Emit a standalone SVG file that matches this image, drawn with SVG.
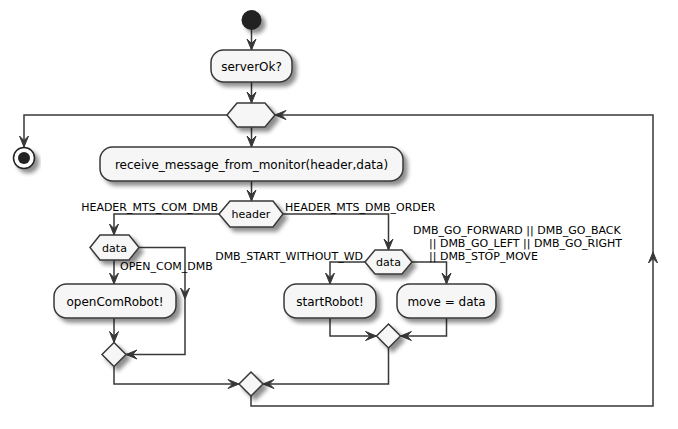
<svg xmlns="http://www.w3.org/2000/svg" xmlns:xlink="http://www.w3.org/1999/xlink" width="678" height="429" viewBox="0 0 678 429">
  <style>
    .box { fill: #F6F6F6; stroke: #383838; stroke-width: 1.5; filter: url(#shadow); }
    .t12 { font-family: "DejaVu Sans", "Liberation Sans", sans-serif; font-size: 12px; fill: #000; text-anchor: middle; }
    .t11 { font-family: "DejaVu Sans", "Liberation Sans", sans-serif; font-size: 11px; fill: #000; text-anchor: middle; }
    .lbl { font-family: "DejaVu Sans", "Liberation Sans", sans-serif; font-size: 11px; fill: #000; }
    .end { text-anchor: end; }
    .edge { fill: none; stroke: #383838; stroke-width: 1.5; }
    .ah { fill: #383838; stroke: #383838; stroke-width: 1; }
  </style>
  <defs>
    <filter id="shadow" x="-20%" y="-20%" width="150%" height="160%">
      <feGaussianBlur in="SourceAlpha" stdDeviation="2"/>
      <feOffset dx="4" dy="4" result="b"/>
      <feComponentTransfer><feFuncA type="linear" slope="0.45"/></feComponentTransfer>
      <feMerge><feMergeNode/><feMergeNode in="SourceGraphic"/></feMerge>
    </filter>
    <!-- arrowhead pointing down, tip at origin -->
    <polygon id="ah" class="ah" points="-4.5,-11 0,0 4.5,-11 0,-6.5"/>
  </defs>
  <rect width="678" height="429" fill="#FFFFFF"/>

  <g id="connectors">
    <path class="edge" d="M251.5,30 V50"/>
    <use xlink:href="#ah" transform="translate(251.5,50)"/>
    <path class="edge" d="M251.5,82 V103"/>
    <use xlink:href="#ah" transform="translate(251.5,103)"/>
    <path class="edge" d="M251.5,127 V147"/>
    <use xlink:href="#ah" transform="translate(251.5,147)"/>
    <path class="edge" d="M227,115 H24 V147"/>
    <use xlink:href="#ah" transform="translate(24,147)"/>
    <path class="edge" d="M251.5,181 V201"/>
    <use xlink:href="#ah" transform="translate(251.5,201)"/>

    <path class="edge" d="M219,214 H114 V235"/>
    <use xlink:href="#ah" transform="translate(114,235)"/>
    <path class="edge" d="M114,260 V284"/>
    <use xlink:href="#ah" transform="translate(114,284)"/>
    <path class="edge" d="M139,247.5 H185 V354.5 H126"/>
    <use xlink:href="#ah" transform="translate(185,299)"/>
    <use xlink:href="#ah" transform="translate(126,354.5) rotate(90)"/>
    <path class="edge" d="M114,318 V342.5"/>
    <use xlink:href="#ah" transform="translate(114,342.5)"/>
    <path class="edge" d="M114,366.5 V384 H239"/>
    <use xlink:href="#ah" transform="translate(239,384) rotate(-90)"/>

    <path class="edge" d="M283,214 H388.5 V250"/>
    <use xlink:href="#ah" transform="translate(388.5,250)"/>
    <path class="edge" d="M365,262 H330 V284"/>
    <use xlink:href="#ah" transform="translate(330,284)"/>
    <path class="edge" d="M412,262 H446.5 V284"/>
    <use xlink:href="#ah" transform="translate(446.5,284)"/>
    <path class="edge" d="M330,318 V336 H376.5"/>
    <use xlink:href="#ah" transform="translate(376.5,336) rotate(-90)"/>
    <path class="edge" d="M446.5,318 V336 H400.5"/>
    <use xlink:href="#ah" transform="translate(400.5,336) rotate(90)"/>
    <path class="edge" d="M388.5,348 V384 H263"/>
    <use xlink:href="#ah" transform="translate(263,384) rotate(90)"/>

    <path class="edge" d="M251,396 V406 H653 V115 H275"/>
    <use xlink:href="#ah" transform="translate(653,252) rotate(180)"/>
    <use xlink:href="#ah" transform="translate(275,115) rotate(90)"/>

    <text class="lbl end" x="218" y="211">HEADER_MTS_COM_DMB</text>
    <text class="lbl" x="285" y="211">HEADER_MTS_DMB_ORDER</text>
    <text class="lbl" x="120" y="270">OPEN_COM_DMB</text>
    <text class="lbl end" x="363" y="260">DMB_START_WITHOUT_WD</text>
    <text class="lbl" x="413" y="233.5">DMB_GO_FORWARD || DMB_GO_BACK</text>
    <text class="lbl" x="429" y="246.5">|| DMB_GO_LEFT || DMB_GO_RIGHT</text>
    <text class="lbl" x="429" y="259.5">|| DMB_STOP_MOVE</text>
  </g>

  <g id="start">
    <circle cx="251.5" cy="20" r="10" fill="#222222" filter="url(#shadow)"/>
  </g>
  <g id="serverOk">
    <rect class="box" x="211" y="50" width="81" height="32" rx="12.5"/>
    <text class="t12" x="251.5" y="70.5">serverOk?</text>
  </g>
  <g id="loop">
    <polygon class="box" points="227,115 237,103 265,103 275,115 265,127 237,127"/>
  </g>
  <g id="stop">
    <circle cx="24" cy="158" r="10.5" fill="#FFFFFF" stroke="#222222" stroke-width="1.5" filter="url(#shadow)"/>
    <circle cx="24" cy="158" r="6" fill="#222222"/>
  </g>
  <g id="receive">
    <rect class="box" x="100" y="147" width="303" height="34" rx="12.5"/>
    <text class="t12" x="251.5" y="168.5">receive_message_from_monitor(header,data)</text>
  </g>
  <g id="header">
    <polygon class="box" points="219,214 230,201 273,201 283,214 273,227 230,227"/>
    <text class="t11" x="251" y="218">header</text>
  </g>
  <g id="data1">
    <polygon class="box" points="90,247.5 100,235 129,235 139,247.5 129,260 100,260"/>
    <text class="t11" x="114.5" y="251.5">data</text>
  </g>
  <g id="openComRobot">
    <rect class="box" x="54" y="284" width="122" height="34" rx="12.5"/>
    <text class="t12" x="115" y="305.5">openComRobot!</text>
  </g>
  <g id="merge1">
    <polygon class="box" points="114,342.5 126,354.5 114,366.5 102,354.5"/>
  </g>
  <g id="data2">
    <polygon class="box" points="365,262 375,250 402,250 412,262 402,274 375,274"/>
    <text class="t11" x="388.5" y="266">data</text>
  </g>
  <g id="startRobot">
    <rect class="box" x="284" y="284" width="92" height="34" rx="12.5"/>
    <text class="t12" x="330" y="305.5">startRobot!</text>
  </g>
  <g id="move">
    <rect class="box" x="397" y="284" width="99" height="34" rx="12.5"/>
    <text class="t12" x="446.5" y="305.5">move = data</text>
  </g>
  <g id="merge2">
    <polygon class="box" points="388.5,324 400.5,336 388.5,348 376.5,336"/>
  </g>
  <g id="merge3">
    <polygon class="box" points="251,372 263,384 251,396 239,384"/>
  </g>
</svg>
